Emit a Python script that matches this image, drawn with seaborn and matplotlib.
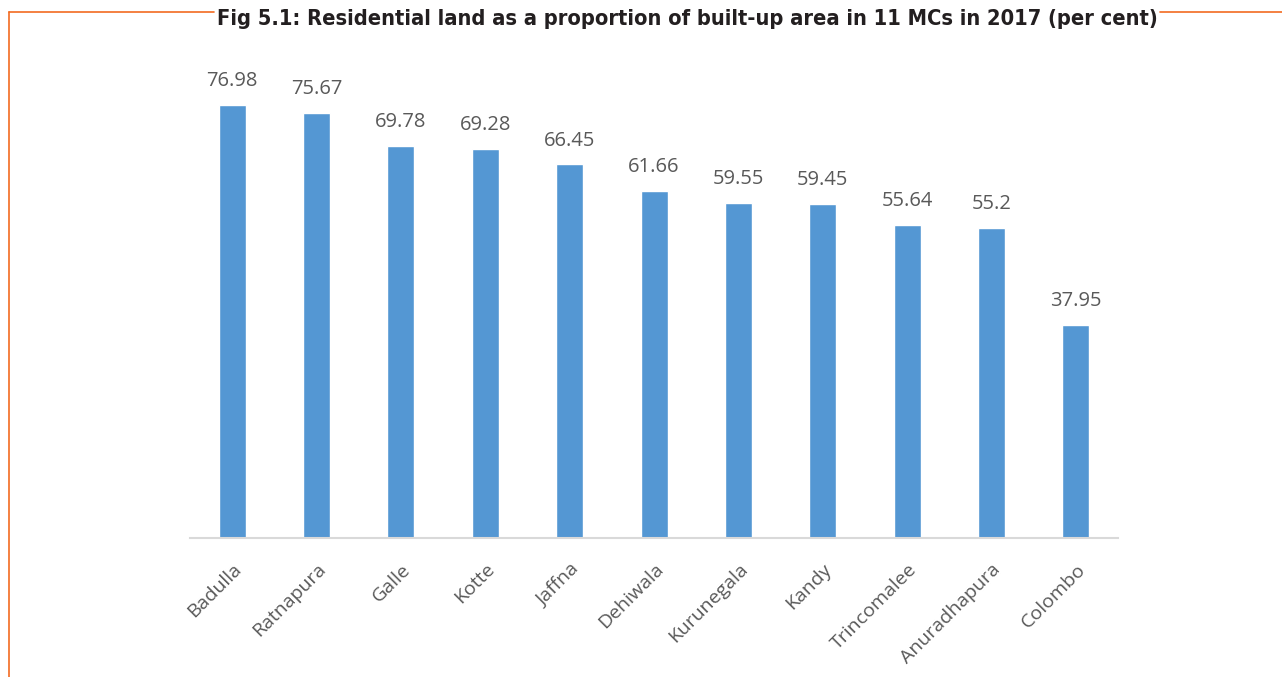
import pandas as pd
import seaborn as sns
import matplotlib.pyplot as plt
from matplotlib.lines import Line2D

cities = ['Badulla', 'Ratnapura', 'Galle', 'Kotte', 'Jaffna', 'Dehiwala',
          'Kurunegala', 'Kandy', 'Trincomalee', 'Anuradhapura', 'Colombo']
shares = [76.98, 75.67, 69.78, 69.28, 66.45, 61.66, 59.55, 59.45, 55.64, 55.2, 37.95]
labels = ['76.98', '75.67', '69.78', '69.28', '66.45', '61.66',
          '59.55', '59.45', '55.64', '55.2', '37.95']

df = pd.DataFrame({'city': cities, 'share': shares})

sns.set_style('white')
plt.rcParams['font.family'] = ['Open Sans', 'DejaVu Sans']

fig = plt.figure(figsize=(12.82, 6.77), dpi=100)
ax = fig.add_axes([0.1482, 0.2053, 0.7240, 0.7474])

sns.barplot(data=df, x='city', y='share', color='#5497D3', saturation=1,
            width=0.32, ax=ax)
ax.bar_label(ax.containers[0], labels=labels, padding=10, fontsize=14.5,
             color='#595959')

ax.set_ylim(0, 90)
ax.set_xlim(-0.5, len(cities) - 0.5)
ax.set_xlabel('')
ax.set_ylabel('')
ax.set_yticks([])
for s in ['top', 'right', 'left']:
    ax.spines[s].set_visible(False)
ax.spines['bottom'].set_color('#D9D9D9')
ax.spines['bottom'].set_linewidth(1.5)
ax.tick_params(axis='x', length=0, pad=16)
plt.setp(ax.get_xticklabels(), rotation=45, ha='right', rotation_mode='anchor',
         fontsize=14, color='#595959')

# title with orange frame lines
title = fig.text(0.536, 0.972, 'Fig 5.1: Residential land as a proportion of built-up area in 11 MCs in 2017 (per cent)',
                 ha='center', va='center', fontsize=15.7, fontweight='bold',
                 fontstretch='condensed', color='#231F20',
                 family=['DejaVu Sans'])
fig.canvas.draw()
bb = title.get_window_extent().transformed(fig.transFigure.inverted())
orange = '#F26B21'
ly = 1 - 12 / 677
lx = 9 / 1282
fig.add_artist(Line2D([lx, bb.x0 - 0.002], [ly, ly], color=orange, lw=1.2))
fig.add_artist(Line2D([bb.x1 + 0.002, 1.0], [ly, ly], color=orange, lw=1.2))
fig.add_artist(Line2D([lx, lx], [0, ly], color=orange, lw=1.2))

fig.savefig('out.png', dpi=100)
